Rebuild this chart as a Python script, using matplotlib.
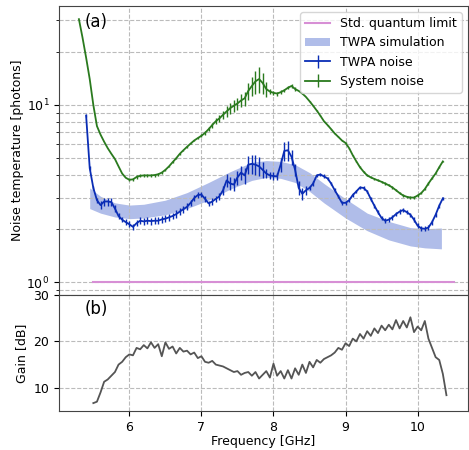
import matplotlib
matplotlib.use("Agg")
import matplotlib.pyplot as plt

# measurement frequency grid [GHz]
freq = [5.30, 5.35, 5.40, 5.45, 5.50, 5.55, 5.60, 5.65, 5.70, 5.75,
        5.80, 5.85, 5.90, 5.95, 6.00, 6.05, 6.10, 6.15, 6.20, 6.25,
        6.30, 6.35, 6.40, 6.45, 6.50, 6.55, 6.60, 6.65, 6.70, 6.75,
        6.80, 6.85, 6.90, 6.95, 7.00, 7.05, 7.10, 7.15, 7.20, 7.25,
        7.30, 7.35, 7.40, 7.45, 7.50, 7.55, 7.60, 7.65, 7.70, 7.75,
        7.80, 7.85, 7.90, 7.95, 8.00, 8.05, 8.10, 8.15, 8.20, 8.25,
        8.30, 8.35, 8.40, 8.45, 8.50, 8.55, 8.60, 8.65, 8.70, 8.75,
        8.80, 8.85, 8.90, 8.95, 9.00, 9.05, 9.10, 9.15, 9.20, 9.25,
        9.30, 9.35, 9.40, 9.45, 9.50, 9.55, 9.60, 9.65, 9.70, 9.75,
        9.80, 9.85, 9.90, 9.95, 10.00, 10.05, 10.10, 10.15, 10.20, 10.25,
        10.30, 10.35]

system_noise = [30.5, 24.0, 18.5, 14.0, 10.0, 7.6, 6.8, 6.2, 5.7, 5.3,
                4.95, 4.5, 4.1, 3.88, 3.78, 3.8, 3.92, 3.98, 4.0, 4.0,
                4.0, 4.02, 4.06, 4.15, 4.3, 4.5, 4.75, 5.0, 5.3, 5.55,
                5.8, 6.05, 6.3, 6.5, 6.7, 6.95, 7.3, 7.7, 8.1, 8.4,
                8.8, 9.2, 9.6, 9.9, 10.2, 10.6, 10.9, 12.0, 12.8, 13.6,
                14.0, 13.3, 12.3, 11.9, 11.7, 11.6, 11.8, 12.1, 12.5, 12.8,
                12.3, 12.0, 11.6, 11.1, 10.5, 9.9, 9.3, 8.7, 8.1, 7.7,
                7.3, 6.9, 6.6, 6.3, 6.1, 5.7, 5.2, 4.8, 4.45, 4.2,
                4.0, 3.9, 3.82, 3.75, 3.68, 3.6, 3.52, 3.42, 3.3, 3.18,
                3.08, 3.03, 3.0, 3.0, 3.08, 3.18, 3.35, 3.6, 3.85, 4.1,
                4.45, 4.8]
system_err = [0, 0, 0, 0, 0, 0, 0, 0, 0, 0,
              0, 0, 0, 0, 0.08, 0.08, 0.08, 0.08, 0.08, 0.08,
              0.08, 0.08, 0.08, 0.05, 0.05, 0.05, 0.05, 0.05, 0.05, 0.05,
              0.05, 0.05, 0.05, 0.05, 0.15, 0.2, 0.2, 0.25, 0.3, 0.35,
              0.5, 0.6, 0.7, 0.75, 0.8, 0.9, 1.0, 1.3, 1.6, 2.0,
              2.3, 1.8, 1.2, 0.4, 0.3, 0.3, 0.3, 0.25, 0.25, 0.3,
              0.3, 0.05, 0.05, 0.05, 0.05, 0.05, 0.05, 0.05, 0.05, 0.05,
              0.05, 0.05, 0.05, 0.05, 0.05, 0.05, 0.05, 0.05, 0.05, 0.05,
              0.05, 0.05, 0.05, 0.05, 0.05, 0.05, 0.05, 0.05, 0.05, 0.05,
              0.05, 0.05, 0.05, 0.05, 0.05, 0.05, 0.05, 0.05, 0.05, 0.05,
              0.05, 0.05]

# TWPA noise starts at 5.40 GHz
twpa_freq = freq[2:]
twpa_noise = [8.7, 4.4, 3.4, 2.9, 2.72, 2.85, 2.85, 2.83, 2.6, 2.36,
              2.25, 2.18, 2.12, 2.05, 2.15, 2.22, 2.2, 2.22, 2.21, 2.22,
              2.22, 2.26, 2.28, 2.32, 2.36, 2.42, 2.5, 2.58, 2.66, 2.8,
              2.98, 3.1, 3.12, 2.95, 2.78, 2.85, 2.95, 3.05, 3.3, 3.75,
              3.6, 3.55, 3.9, 4.15, 4.0, 4.6, 4.65, 4.6, 4.5, 4.3,
              4.1, 4.0, 3.97, 3.95, 4.6, 5.5, 5.55, 5.1, 4.3, 3.4,
              3.15, 3.3, 3.4, 3.6, 4.0, 4.05, 3.95, 3.85, 3.6, 3.3,
              3.05, 2.8, 2.8, 2.9, 3.1, 3.25, 3.42, 3.4, 3.25, 2.95,
              2.7, 2.48, 2.3, 2.22, 2.25, 2.32, 2.42, 2.5, 2.55, 2.48,
              2.4, 2.25, 2.08, 2.01, 2.0, 2.03, 2.18, 2.4, 2.7, 2.97]
twpa_err = [0.2, 0.12, 0.1, 0.1, 0.15, 0.15, 0.15, 0.15, 0.12, 0.08,
            0.08, 0.08, 0.08, 0.08, 0.08, 0.1, 0.1, 0.1, 0.1, 0.1,
            0.1, 0.1, 0.1, 0.1, 0.1, 0.12, 0.12, 0.12, 0.12, 0.12,
            0.12, 0.12, 0.1, 0.1, 0.1, 0.12, 0.12, 0.15, 0.2, 0.3,
            0.3, 0.3, 0.35, 0.4, 0.4, 0.55, 0.6, 0.6, 0.55, 0.45,
            0.25, 0.2, 0.2, 0.2, 0.4, 0.7, 0.7, 0.5, 0.35, 0.3,
            0.25, 0.2, 0.1, 0.1, 0.1, 0.1, 0.1, 0.08, 0.08, 0.08,
            0.07, 0.07, 0.07, 0.07, 0.07, 0.07, 0.07, 0.07, 0.07, 0.07,
            0.07, 0.07, 0.07, 0.07, 0.07, 0.07, 0.07, 0.07, 0.07, 0.07,
            0.07, 0.07, 0.07, 0.07, 0.07, 0.07, 0.07, 0.07, 0.07, 0.07]

sim_freq = [5.45, 5.6, 5.8, 6.0, 6.2, 6.5, 6.8, 7.1, 7.4, 7.7, 7.9,
            8.1, 8.3, 8.5, 8.7, 9.0, 9.3, 9.6, 9.9, 10.1, 10.33]
sim_high = [3.4, 3.05, 2.8, 2.72, 2.75, 2.9, 3.2, 3.65, 4.2, 4.75, 4.85,
            4.8, 4.6, 4.15, 3.6, 2.95, 2.45, 2.2, 2.03, 2.0, 2.02]
sim_low = [2.6, 2.45, 2.33, 2.28, 2.3, 2.4, 2.6, 2.9, 3.35, 3.75, 3.9,
           3.85, 3.65, 3.25, 2.8, 2.3, 1.95, 1.73, 1.6, 1.56, 1.54]

sql_freq = [5.5, 10.5]
sql_value = [1.0, 1.0]

gain_freq = freq[4:] + [10.40]
gain = [6.7, 7.0, 9.0, 11.3, 11.8, 12.6, 13.4, 15.0, 15.6, 16.6,
        17.2, 17.0, 18.6, 18.3, 19.2, 18.5, 19.8, 18.6, 19.4, 16.8,
        19.8, 18.4, 18.9, 17.4, 18.6, 17.8, 18.0, 17.2, 17.6, 16.4,
        16.8, 15.6, 15.4, 15.8, 15.0, 14.8, 14.6, 14.2, 13.8, 13.4,
        13.6, 12.8, 13.2, 13.4, 12.6, 13.4, 12.0, 12.8, 13.6, 12.2,
        15.2, 12.6, 13.6, 12.0, 13.8, 12.0, 14.2, 12.8, 15.0, 13.2,
        15.6, 14.4, 16.0, 15.4, 16.2, 16.6, 17.0, 17.6, 18.6, 18.2,
        19.6, 19.0, 20.6, 20.0, 21.6, 20.6, 22.2, 21.2, 22.8, 21.8,
        23.4, 22.4, 23.6, 22.6, 24.6, 22.8, 24.4, 23.0, 25.2, 22.0,
        23.2, 22.4, 24.4, 20.6, 18.6, 16.6, 16.0, 13.0, 8.4]

plt.rcParams['font.size'] = 9
plt.rcParams['axes.edgecolor'] = '#444444'

fig = plt.figure(figsize=(4.69, 4.5), dpi=100)
ax1 = fig.add_axes([0.126, 0.3444, 0.872, 0.6423])
ax2 = fig.add_axes([0.126, 0.0867, 0.872, 0.2577], sharex=ax1)

grid_kw = dict(color='#bbbbbb', linestyle='--', linewidth=0.8)

ax1.plot(sql_freq, sql_value, color='#d78fd5', lw=1.5, label='Std. quantum limit')
ax1.fill_between(sim_freq, sim_low, sim_high, color='#b0bde9', lw=0, label='TWPA simulation')
ax1.errorbar(twpa_freq, twpa_noise, yerr=twpa_err, color='#0a2db5', lw=1.3, elinewidth=1,
             label='TWPA noise')
ax1.errorbar(freq, system_noise, yerr=system_err, color='#2a7a1e', lw=1.3, elinewidth=1,
             label='System noise')
ax1.set_yscale('log')
ax1.set_ylim(0.845, 36.2)
ax1.set_xlim(5.025, 10.70)
ax1.set_ylabel('Noise temperature [photons]', labelpad=2)
ax1.grid(True, which='both', **grid_kw)
ax1.tick_params(labelbottom=False)
ax1.text(0.062, 0.975, '(a)', transform=ax1.transAxes, fontsize=12, va='top')
ax1.legend(loc='upper right', borderaxespad=0.5)

ax2.plot(gain_freq, gain, color='#555555', lw=1.3)
ax2.set_ylim(5, 30)
ax2.set_yticks([10, 20, 30])
ax2.set_ylabel('Gain [dB]')
ax2.set_xlabel('Frequency [GHz]', labelpad=1)
ax2.grid(True, **grid_kw)
ax2.text(0.062, 0.96, '(b)', transform=ax2.transAxes, fontsize=12, va='top')

fig.savefig('out.png', dpi=100)
